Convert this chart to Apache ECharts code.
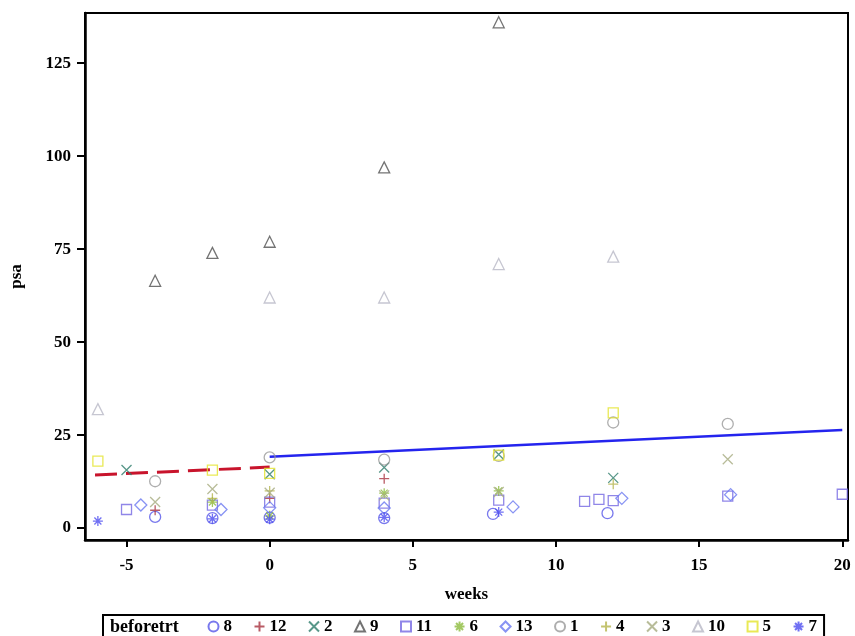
<!DOCTYPE html>
<html>
<head>
<meta charset="utf-8">
<script src="https://cdn.jsdelivr.net/npm/echarts@6/dist/echarts.min.js"></script>
<style>
  html, body { margin: 0; padding: 0; background: #fff; }
  #chart { width: 855px; height: 636px; }
</style>
</head>
<body>
<div id="chart"></div>
<script>
// ticks
const xTicks = [-5, 0, 5, 10, 15, 20];
const yTicks = [0, 25, 50, 75, 100, 125];

// patients in legend order
const patients = ["8", "12", "2", "9", "11", "6", "13", "1", "4", "3", "10", "5", "7"];

// [weeks, psa] per patient
const p8 = [[-4, 3], [-2, 2.7], [0, 2.8], [4, 2.7], [7.8, 3.8], [11.8, 4]];
const p12 = [[-4, 4.8], [0, 8], [4, 13.3]];
const p2 = [[-5, 15.6], [0, 14.5], [4, 16.3], [8, 19.8], [12, 13.5]];
const p9 = [[-4, 66.5], [-2, 74], [0, 77], [4, 97], [8, 136]];
const p11 = [[-5, 5], [-2, 6.2], [0, 7], [4, 6.7], [8, 7.5], [11, 7.2], [11.5, 7.7], [12, 7.4], [16, 8.6], [20, 9.1]];
const p6 = [[-2, 7], [0, 3.3], [4, 9.4], [8, 10]];
const p13 = [[-4.5, 6.2], [-1.7, 5], [0, 5.5], [4, 5.4], [8.5, 5.7], [12.3, 8], [16.1, 9]];
const p1 = [[-4, 12.6], [0, 19], [4, 18.4], [8, 19.4], [12, 28.4], [16, 28]];
const p4 = [[-2, 8], [0, 10], [12, 11.8]];
const p3 = [[-4, 7], [-2, 10.5], [0, 9.5], [4, 8.8], [8, 9.7], [16, 18.5]];
const p10 = [[-6, 32], [0, 62], [4, 62], [8, 71], [12, 73]];
const p5 = [[-6, 18], [-2, 15.6], [0, 14.7], [8, 19.6], [12, 31]];
const p7 = [[-6, 1.9], [-2, 2.5], [0, 2.4], [4, 2.9], [8, 4.3]];

// fitted lines before / after treatment
const fitBefore = [[-6.1, 14.3], [0, 16.4]];
const fitAfter = [[0, 19.2], [20, 26.4]];

const PLUS = "path://M5,0L5,10M0,5L10,5";
const CROSS = "path://M0,0L10,10M10,0L0,10";
const STAR = "path://M5,0L5,10M0,5L10,5M1.5,1.5L8.5,8.5M8.5,1.5L1.5,8.5";

const styles = {
  "8": { symbol: "circle", color: "#5656e8", size: 11 },
  "12": { symbol: PLUS, color: "#a8323e", size: 10 },
  "2": { symbol: CROSS, color: "#2e7d6c", size: 10 },
  "9": { symbol: "triangle", color: "#505050", size: 11 },
  "11": { symbol: "rect", color: "#7468e2", size: 10 },
  "6": { symbol: STAR, color: "#8cbc3c", size: 10 },
  "13": { symbol: "diamond", color: "#6a78f0", size: 12 },
  "1": { symbol: "circle", color: "#9a9a9a", size: 11 },
  "4": { symbol: PLUS, color: "#b4b44c", size: 10 },
  "3": { symbol: CROSS, color: "#a6ab80", size: 10 },
  "10": { symbol: "triangle", color: "#b8b8c6", size: 11 },
  "5": { symbol: "rect", color: "#e4e42a", size: 10 },
  "7": { symbol: STAR, color: "#4c4cf0", size: 10 },
};
const dataMap = { "8": p8, "12": p12, "2": p2, "9": p9, "11": p11, "6": p6, "13": p13, "1": p1, "4": p4, "3": p3, "10": p10, "5": p5, "7": p7 };

const serif = "Liberation Serif";

const series = patients.map((id) => ({
  name: id,
  type: "scatter",
  data: dataMap[id],
  symbol: styles[id].symbol,
  symbolSize: styles[id].size,
  itemStyle: { color: "none", borderColor: styles[id].color, borderWidth: 1.3 },
  z: 3,
}));

series.push({
  name: "before",
  type: "line",
  data: fitBefore,
  symbol: "none",
  lineStyle: { color: "#c8142c", width: 3, type: [22, 9] },
  z: 2,
});
series.push({
  name: "after",
  type: "line",
  data: fitAfter,
  symbol: "none",
  lineStyle: { color: "#2424ee", width: 2.5 },
  z: 2,
});

const chart = echarts.init(document.getElementById("chart"));
chart.setOption({
  animation: false,
  backgroundColor: "#fff",
  title: {
    text: "beforetrt",
    left: 110,
    top: 618,
    textStyle: { fontFamily: serif, fontWeight: "bold", fontSize: 18, color: "#000" },
    padding: 0,
  },
  legend: {
    data: patients,
    left: 103,
    top: 615,
    padding: [3, 7, 6, 103],
    borderColor: "#000",
    borderWidth: 2,
    itemWidth: 10,
    itemHeight: 10,
    itemGap: 20,
    textStyle: { fontFamily: serif, fontWeight: "bold", fontSize: 17, color: "#000" },
  },
  grid: {
    left: 84,
    right: 7,
    top: 13,
    bottom: 96,
    show: true,
    borderColor: "#000",
    borderWidth: 2,
  },
  xAxis: {
    type: "value",
    min: -6.45,
    max: 20.2,
    name: "weeks",
    nameLocation: "middle",
    nameGap: 46,
    nameTextStyle: { fontFamily: serif, fontWeight: "bold", fontSize: 17, color: "#000" },
    axisLine: { onZero: false, lineStyle: { color: "#000", width: 2.5 } },
    axisTick: { customValues: xTicks, length: 7, lineStyle: { color: "#000", width: 2 } },
    axisLabel: { customValues: xTicks, fontFamily: serif, fontWeight: "bold", fontSize: 17, color: "#000", margin: 17 },
    splitLine: { show: false },
  },
  yAxis: {
    type: "value",
    min: -3.2,
    max: 138.5,
    name: "psa",
    nameLocation: "middle",
    nameGap: 60,
    nameTextStyle: { fontFamily: serif, fontWeight: "bold", fontSize: 17, color: "#000" },
    axisLine: { onZero: false, lineStyle: { color: "#000", width: 2.5 } },
    axisTick: { customValues: yTicks, length: 8, lineStyle: { color: "#000", width: 2 } },
    axisLabel: { customValues: yTicks, fontFamily: serif, fontWeight: "bold", fontSize: 17, color: "#000", margin: 14 },
    splitLine: { show: false },
  },
  series: series,
});
</script>
</body>
</html>
